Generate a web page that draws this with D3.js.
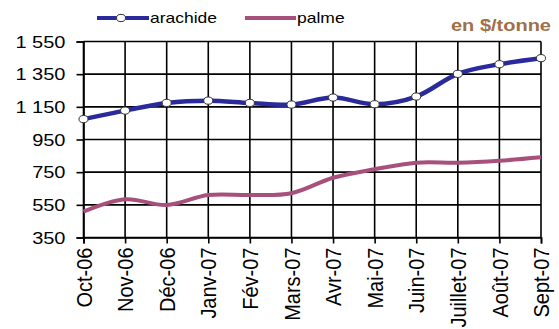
<!DOCTYPE html>
<html><head><meta charset="utf-8">
<script src="https://cdn.jsdelivr.net/npm/d3@7"></script>
<style>body{margin:0;background:#fff}svg{display:block}</style>
</head><body>
<script>
const categories = ["Oct-06","Nov-06","Déc-06","Janv-07","Fév-07","Mars-07","Avr-07","Mai-07","Juin-07","Juillet-07","Août-07","Sept-07"];
const arachide = [1075,1127,1174,1188,1174,1164,1207,1166,1213,1352,1411,1448];
const palme = [508,584,549,610,610,621,716,768,808,808,820,841];
const yTicks = [350,550,750,950,1150,1350,1550];

const W=559,H=329, SX=1.25;
const svg=d3.select("body").append("svg").attr("width",W).attr("height",H);
const x=d3.scalePoint().domain(categories).range([83.5,541]);
const y=d3.scaleLinear().domain([350,1550]).range([237.5,41.5]);
const font="Liberation Sans, Arial, sans-serif";
const BLUE="#2A2A9C", PINK="#A8507C";

// grid
svg.append("g").selectAll("line").data(yTicks).join("line")
 .attr("x1",83.5).attr("x2",541).attr("y1",d=>y(d)).attr("y2",d=>y(d))
 .attr("stroke","#000").attr("stroke-width",1.6);
svg.append("g").selectAll("line").data(categories).join("line")
 .attr("x1",d=>x(d)).attr("x2",d=>x(d)).attr("y1",y(1550)).attr("y2",y(350))
 .attr("stroke","#000").attr("stroke-width",1.6);

const yAxis=svg.append("g").attr("transform","translate(83.5,0)")
 .call(d3.axisLeft(y).tickValues(yTicks).tickSize(7).tickFormat(d=>d3.format(",")(d).replace(","," ")));
const xAxis=svg.append("g").attr("transform",`translate(0,${y(350)})`)
 .call(d3.axisBottom(x).tickSize(6));
[yAxis,xAxis].forEach(a=>{a.select(".domain").attr("stroke","#000").attr("stroke-width",1.6);
 a.selectAll(".tick line").attr("stroke","#000").attr("stroke-width",1.6);
 a.selectAll("text").attr("font-family",font).attr("fill","#000");});
yAxis.selectAll("text").attr("font-size",16).attr("x",0).attr("dy","0.35em")
 .attr("transform",`translate(-18,0) scale(${SX},1)`);
xAxis.selectAll("text").attr("font-size",20).attr("text-anchor","end")
 .attr("x",0).attr("y",0).attr("dy","0.35em")
 .attr("transform",`translate(0,10) scale(1.1,1) rotate(-90)`);

const line=d3.line().x((d,i)=>x(categories[i])).y(d=>y(d)).curve(d3.curveCatmullRom.alpha(0.5));
svg.append("path").datum(palme).attr("d",line).attr("fill","none").attr("stroke",PINK).attr("stroke-width",4);
svg.append("path").datum(arachide).attr("d",line).attr("fill","none").attr("stroke",BLUE).attr("stroke-width",4.5);
svg.append("g").selectAll("ellipse").data(arachide).join("ellipse")
 .attr("cx",(d,i)=>x(categories[i])).attr("cy",d=>y(d)).attr("rx",4.5).attr("ry",3.6)
 .attr("fill","#fff").attr("stroke","#333").attr("stroke-width",1);

// legend
const lg=svg.append("g");
lg.append("line").attr("x1",97).attr("x2",149).attr("y1",18).attr("y2",18).attr("stroke",BLUE).attr("stroke-width",4);
lg.append("ellipse").attr("cx",121).attr("cy",18).attr("rx",4.5).attr("ry",3.6).attr("fill","#fff").attr("stroke","#333");
lg.append("text").attr("transform",`translate(150,23) scale(${SX},1)`).text("arachide").attr("font-family",font).attr("font-size",14);
lg.append("line").attr("x1",245).attr("x2",296).attr("y1",18).attr("y2",18).attr("stroke",PINK).attr("stroke-width",4);
lg.append("text").attr("transform",`translate(297,23) scale(${SX},1)`).text("palme").attr("font-family",font).attr("font-size",14);
svg.append("text").attr("transform",`translate(551,31) scale(${SX},1)`).attr("text-anchor","end").text("en $/tonne")
 .attr("font-family",font).attr("font-size",16).attr("font-weight","bold").attr("fill","#A07048");
</script>
</body></html>
